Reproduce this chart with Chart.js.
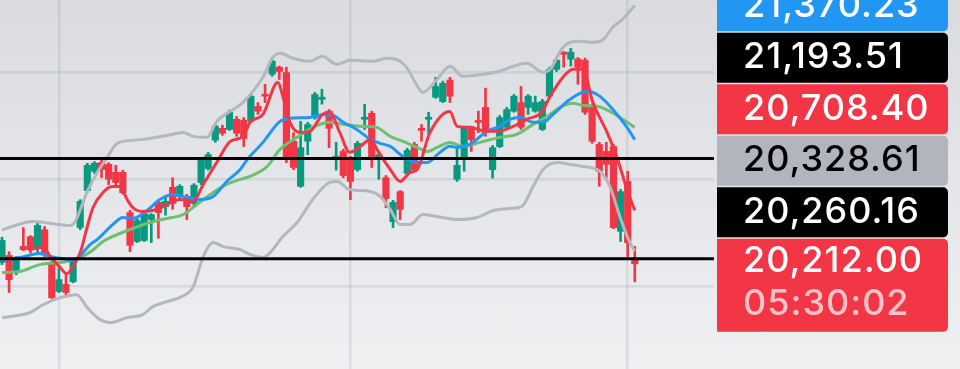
<!DOCTYPE html>
<html>
<head>
<meta charset="utf-8">
<script src="https://cdn.jsdelivr.net/npm/chart.js@4.4.1/dist/chart.umd.min.js"></script>
<style>
  html, body { margin: 0; padding: 0; }
  body { width: 960px; height: 369px; overflow: hidden; background: linear-gradient(#d9dbdf, #eff0f2); }
  canvas { display: block; }
</style>
</head>
<body>
<canvas id="chart" width="960" height="369"></canvas>
<script>
// candles, one row per session: open, high, low, close
const candles = [
  [20225, 20460, 20205, 20430], [20290, 20325, 19945, 20065], [20140, 20280, 20110, 20250],
  [20375, 20550, 20335, 20345], [20465, 20475, 20315, 20345], [20365, 20605, 20315, 20570],
  [20530, 20560, 20280, 20310], [20225, 20235, 19890, 19895], [19955, 20175, 19945, 20065],
  [20020, 20130, 19905, 19945], [20045, 20260, 20035, 20245], [20550, 20810, 20530, 20795],
  [20895, 21150, 20875, 21130], [21075, 21165, 21055, 21150], [21155, 21185, 21015, 21090],
  [21140, 21155, 20950, 21000], [21065, 21130, 20950, 20970], [21065, 21085, 20860, 20875],
  [20690, 20710, 20325, 20385], [20420, 20635, 20410, 20615], [20430, 20700, 20420, 20680],
  [20625, 20680, 20410, 20670], [20785, 20810, 20450, 20690], [20745, 20840, 20665, 20795],
  [20925, 21015, 20720, 20775], [20840, 20950, 20820, 20935], [20840, 20860, 20625, 20745],
  [20775, 20960, 20755, 20945], [20970, 21205, 20950, 21185], [21100, 21250, 21085, 21230],
  [21365, 21510, 21345, 21495], [21475, 21505, 21410, 21430], [21465, 21645, 21455, 21625],
  [21560, 21585, 21400, 21430], [21550, 21575, 21305, 21380], [21540, 21790, 21530, 21775],
  [21680, 21715, 21605, 21635], [21790, 21885, 21715, 21775], [21980, 22135, 21960, 22100],
  [22045, 22055, 21930, 22005], [21995, 22045, 21155, 21185], [21355, 21435, 21090, 21110],
  [20935, 21540, 20925, 21295], [21355, 21530, 21230, 21510], [21575, 21810, 21560, 21790],
  [21745, 21840, 21700, 21765], [21635, 21650, 21295, 21475], [21195, 21345, 21085, 21215],
  [21260, 21280, 21015, 21035], [21185, 21215, 20810, 20980], [21090, 21355, 21075, 21335],
  [21560, 21700, 21465, 21575], [21615, 21635, 21110, 21185], [21205, 21250, 21000, 21230],
  [21015, 21035, 20735, 20820], [20605, 20805, 20550, 20785], [20885, 20895, 20625, 20720],
  [21055, 21290, 21045, 21270], [21325, 21345, 21075, 21090], [21475, 21510, 21355, 21455],
  [21560, 21625, 21420, 21575], [21765, 21950, 21755, 21865], [21725, 21915, 21715, 21895],
  [21925, 21950, 21715, 21775], [21000, 21295, 20980, 21130], [21185, 21495, 21075, 21485],
  [21485, 21495, 21260, 21370], [21540, 21635, 21435, 21530], [21670, 21850, 21400, 21435],
  [21090, 21315, 21010, 21295], [21305, 21595, 21295, 21575], [21485, 21670, 21475, 21650],
  [21635, 21790, 21625, 21775], [21715, 21865, 21465, 21485], [21670, 21790, 21605, 21775],
  [21635, 21775, 21625, 21715], [21465, 21745, 21455, 21725], [21775, 22045, 21765, 22025],
  [22025, 22135, 22005, 22110], [22185, 22190, 22045, 22165], [22120, 22220, 22055, 22185],
  [22120, 22135, 21885, 22045], [22110, 22130, 21605, 21625], [21680, 21700, 21335, 21355],
  [21325, 21345, 20935, 21075], [21260, 21345, 21015, 21140], [21305, 21325, 20540, 20550],
  [20515, 20905, 20420, 20885], [20980, 21075, 20280, 20410], [20255, 20375, 20045, 20212]
];

// indicator lines as [candle position, price]
const upperBand = [
  [0, 20530], [4.4, 20607], [9.6, 20569], [10.3, 20607], [12, 20887], [13.4, 21064], [14.8, 21204],
  [16.2, 21335], [18.4, 21363], [20.8, 21381], [23.2, 21409], [25.5, 21437], [26.9, 21400],
  [28.8, 21391], [30.2, 21540], [32.1, 21633], [33.9, 21717], [36.7, 21951], [38.1, 22137],
  [39.1, 22175], [40.9, 22128], [43.3, 22100], [45, 22147], [47.1, 22072], [48.9, 22109],
  [52.2, 22100], [54.1, 22128], [56, 22100], [57.1, 22025], [58.1, 21904], [59.2, 21811],
  [61.2, 21932], [63, 22053], [64.8, 21960], [67.7, 21979], [70, 22007], [71.9, 22053],
  [73.8, 22081], [76.1, 21997], [77.1, 22025], [78.9, 22231], [80.9, 22287], [83.2, 22277],
  [84.6, 22305], [85.9, 22417], [87.3, 22492], [89, 22623]
];
const lowerBand = [
  [0, 19711], [3.9, 19757], [5.8, 19832], [8.2, 19897], [10.5, 19925], [12, 19804], [13.8, 19692],
  [15.2, 19664], [17.6, 19711], [19.8, 19739], [21.2, 19813], [23.2, 19860], [25.3, 19907],
  [26.9, 20000], [28.3, 20280], [29.7, 20411], [31.1, 20373], [33.5, 20345], [34.9, 20299],
  [36.7, 20271], [37.7, 20317], [39.5, 20467], [41.5, 20597], [43.7, 20812], [46.1, 20971],
  [47.1, 20980], [48.9, 20905], [51.8, 20887], [53.2, 20840], [54.6, 20719], [56, 20579],
  [57.4, 20579], [59.2, 20672], [61.2, 20653], [64, 20625], [66.8, 20644], [69.1, 20709],
  [71.4, 20728], [73.1, 20747], [74.7, 20933], [76.1, 21092], [78.1, 21157], [79.9, 21139],
  [81.7, 21120], [84.1, 21073], [85.5, 20933], [86.9, 20653], [88.3, 20411], [89, 20329]
];
const blueMa = [
  [0, 20252], [2.5, 20271], [5.3, 20308], [6.8, 20280], [9.1, 20252], [10, 20243], [11, 20289],
  [12.4, 20392], [13.4, 20439], [15.6, 20579], [17, 20644], [18.4, 20635], [20.4, 20709],
  [22.2, 20812], [24.1, 20859], [26, 20831], [27.8, 20812], [29.7, 20840], [31.6, 20980],
  [33.5, 21092], [34.5, 21185], [36.7, 21344], [39.1, 21540], [40.5, 21568], [43.3, 21577],
  [45.1, 21605], [46.6, 21596], [48, 21531], [49.9, 21465], [51.8, 21372], [53.2, 21335],
  [54.6, 21307], [56.4, 21213], [58.4, 21157], [59.8, 21157], [61.6, 21251], [63, 21307],
  [64, 21297], [65.8, 21325], [68.2, 21447], [70, 21493], [71.4, 21559], [72.9, 21577],
  [74.7, 21531], [76.1, 21531], [77.5, 21605], [79.9, 21745], [82.3, 21820], [84.1, 21773],
  [85.9, 21652], [87.9, 21484], [89, 21370.23]
];
const greenMa = [
  [0, 20131], [2.5, 20140], [5.3, 20205], [9.1, 20233], [11, 20271], [12.7, 20336], [14.2, 20420],
  [15.6, 20467], [18, 20532], [20.8, 20597], [23.2, 20635], [25.5, 20672], [27.4, 20765],
  [29.7, 20877], [31.6, 20952], [33.5, 20999], [34.9, 21027], [37.3, 21120], [39.1, 21279],
  [41.5, 21391], [43.7, 21484], [46.1, 21531], [48, 21512], [50.8, 21493], [52.7, 21484],
  [54.6, 21400], [56.4, 21353], [58.4, 21297], [59.8, 21260], [61.2, 21297], [63, 21344],
  [64.8, 21307], [67.2, 21344], [70, 21391], [72.4, 21419], [74.7, 21512], [76.7, 21587],
  [78.5, 21671], [80.3, 21708], [81.7, 21689], [83.7, 21680], [85.5, 21633], [87.3, 21559],
  [89, 21484]
];
const redMa = [
  [3.7, 20345], [5.8, 20364], [6.8, 20280], [8.2, 20177], [9.1, 20121], [10.3, 20224], [11, 20317],
  [12, 20560], [12.8, 20737], [14.2, 20877], [15.5, 20933], [16.6, 20933], [17.6, 20812],
  [18.4, 20737], [19.7, 20700], [21.8, 20719], [23.2, 20765], [25, 20812], [26.9, 20793],
  [28.3, 20952], [30.2, 21157], [32.1, 21353], [33.9, 21400], [34.9, 21531], [36.7, 21605],
  [38.8, 21904], [39.5, 21773], [40.5, 21531], [41.9, 21437], [43.3, 21447], [45.1, 21605],
  [46.1, 21624], [47.5, 21437], [48.9, 21251], [50.4, 21307], [51.8, 21372], [52.9, 21260],
  [54.6, 21092], [56, 20980], [57.4, 21064], [58.4, 21092], [60.2, 21437], [63, 21633],
  [64, 21493], [65.8, 21484], [68.2, 21447], [69.6, 21447], [71.9, 21493], [73.8, 21559],
  [75.9, 21624], [77.1, 21773], [78.9, 21951], [80.3, 22025], [81.7, 22025], [83.1, 21717],
  [85.1, 21437], [86.5, 21204], [87.9, 20905], [89, 20708.40]
];

const levels = [21193.51, 20260.16];
const gridPrices = [20000, 21000, 22000];
const gridCandles = [8, 49, 88];
const tagValues = [20260.16, 20328.61, 20708.40, 21193.51, 21370.23];
const tagColors = ['#000000', '#b2b5be', '#f23645', '#000000', '#2196f3'];
const tagText = ['#ffffff', '#000000', '#ffffff', '#ffffff', '#ffffff'];
const lastPrice = 20212.00;
const countdown = '05:30:02';

const GREEN = '#089981';
const RED = '#f23645';
const candleColors = candles.map(c => c[3] >= c[0] ? GREEN : RED);
const pts = arr => arr.map(p => ({ x: p[0], y: p[1] }));
const fmt = v => v.toLocaleString('en-US', { minimumFractionDigits: 2, maximumFractionDigits: 2 });

function lineSet(data, color, width, order) {
  return {
    type: 'line', data: pts(data), borderColor: color, borderWidth: width,
    pointRadius: 0, cubicInterpolationMode: 'monotone', order: order
  };
}

const priceTags = {
  id: 'priceTags',
  afterDraw(chart) {
    const ctx = chart.ctx;
    const y = chart.scales.y;
    const left = 717, w = 231;
    ctx.save();
    ctx.font = '500 36px Inter, "Noto Sans", sans-serif';
    ctx.letterSpacing = '1px';
    ctx.textBaseline = 'alphabetic';
    ctx.textAlign = 'left';

    let top = y.getPixelForValue(lastPrice) - 25;
    ctx.fillStyle = RED;
    ctx.beginPath();
    ctx.roundRect(left, top, w, 93, [0, 5, 5, 0]);
    ctx.fill();
    ctx.fillStyle = '#ffffff';
    ctx.fillText(fmt(lastPrice), 743, top + 33);
    ctx.fillStyle = 'rgba(255,255,255,0.7)';
    ctx.fillText(countdown, 743, top + 76);

    tagValues.forEach((v, i) => {
      const bottom = top - 1.5;
      top = bottom - 50;
      ctx.fillStyle = tagColors[i];
      ctx.beginPath();
      ctx.roundRect(left, top, w, 50, [0, 5, 5, 0]);
      ctx.fill();
      ctx.fillStyle = tagText[i];
      ctx.fillText(fmt(v), 743, top + 35.5);
    });
    ctx.restore();
  }
};

const gridStyle = { color: 'rgba(120,126,138,0.16)', lineWidth: 2.5, drawTicks: false, offset: false };

new Chart(document.getElementById('chart'), {
  type: 'line',
  data: {
    datasets: [
      ...levels.map(v => ({
        type: 'line', data: [{ x: -1, y: v }, { x: 101, y: v }],
        borderColor: '#000000', borderWidth: 3, pointRadius: 0, order: 0
      })),
      lineSet(redMa, RED, 3, 1),
      lineSet(blueMa, '#2196f3', 3, 2),
      lineSet(greenMa, '#6cc070', 3, 3),
      lineSet(upperBand, '#b4b7bf', 3, 4),
      lineSet(lowerBand, '#b4b7bf', 3, 4),
      {
        type: 'bar', data: candles.map((c, i) => ({ x: i, y: [c[0], c[3]] })),
        backgroundColor: candleColors, barThickness: 6.5, minBarLength: 2,
        grouped: false, borderWidth: 0, order: 5
      },
      {
        type: 'bar', data: candles.map((c, i) => ({ x: i, y: [c[2], c[1]] })),
        backgroundColor: candleColors, barThickness: 2,
        grouped: false, borderWidth: 0, order: 6
      }
    ]
  },
  options: {
    responsive: false,
    animation: false,
    layout: { padding: { left: 0, right: 246, top: 0, bottom: 0 } },
    plugins: { legend: { display: false }, tooltip: { enabled: false } },
    scales: {
      x: {
        type: 'linear', min: -0.28, max: 100.14, offset: false,
        border: { display: false }, ticks: { display: false }, grid: gridStyle,
        afterBuildTicks: s => { s.ticks = gridCandles.map(v => ({ value: v })); }
      },
      y: {
        type: 'linear', min: 19232, max: 22671,
        border: { display: false }, ticks: { display: false }, grid: gridStyle,
        afterBuildTicks: s => { s.ticks = gridPrices.map(v => ({ value: v })); }
      }
    }
  },
  plugins: [priceTags]
});
</script>
</body>
</html>
